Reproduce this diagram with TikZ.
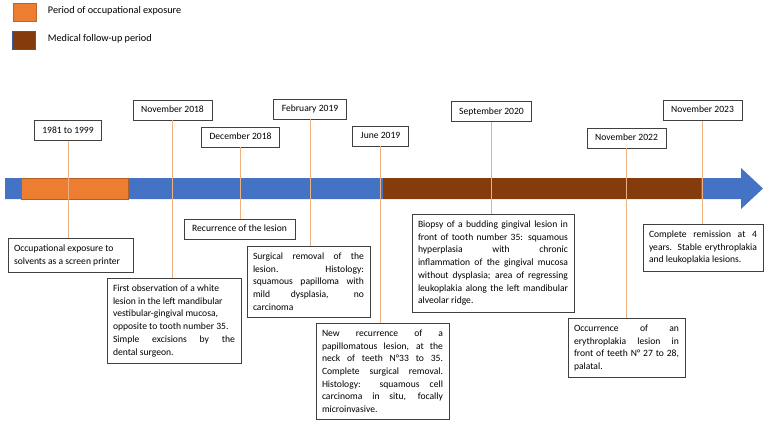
\documentclass[tikz,border=0pt]{standalone}
\usepackage{fontspec}
\setmainfont{Carlito}
\usetikzlibrary{positioning}
\definecolor{barblue}{RGB}{68,114,196}
\definecolor{exporange}{RGB}{237,125,49}
\definecolor{followbrown}{RGB}{132,60,12}
\definecolor{stem}{RGB}{238,176,126}
\definecolor{boxgray}{RGB}{64,64,64}

\begin{document}
\begin{tikzpicture}[x=1pt,y=-1pt,
  every node/.style={font=\fontsize{9.6}{12.7}\selectfont},
  datebox/.style={draw=boxgray,line width=0.7pt,inner xsep=8pt,inner ysep=5.5pt,text height=7pt,text depth=2pt},
  eventbox/.style={draw=boxgray,line width=0.7pt,inner xsep=6pt,inner ysep=6.5pt,align=justify,anchor=north},
  keybox/.style={minimum width=23pt,minimum height=18pt,inner sep=0pt,line width=0.8pt},
  keytext/.style={font=\fontsize{10.2}{12.7}\selectfont,yshift=1.5pt},
  link/.style={stem,line width=0.8pt}]
  \useasboundingbox (0,0) rectangle (767,425);
  % legend
  \node[keybox,fill=exporange,draw=exporange!80!black] (keyexp) at (24.5,12) {};
  \node[keytext,right=8pt of keyexp] (keyexptext) {Period of occupational exposure};
  \node[keybox,fill=followbrown,draw=barblue!80!black] (keyfollow) at (24,40) {};
  \node[keytext,right=8.5pt of keyfollow] (keyfollowtext) {Medical follow-up period};
  % time bar
  \fill[barblue] (5,178) -- (741,178) -- (741,168) -- (763,188.5) -- (741,209) -- (741,199) -- (5,199) -- cycle;
  \filldraw[fill=exporange,draw=exporange!75!black,line width=0.6pt] (21,178) rectangle (128,199);
  \fill[followbrown] (383,178) rectangle (701,199);
  % dates
  \node[datebox] (d1) at (68,130.5) {1981 to 1999};
  \node[datebox] (d2) at (172.5,110) {November 2018};
  \node[datebox] (d3) at (240.5,137) {December 2018};
  \node[datebox] (d4) at (310,109) {February 2019};
  \node[datebox] (d5) at (380.5,136) {June 2019};
  \node[datebox] (d6) at (491.5,111.5) {September 2020};
  \node[datebox] (d7) at (626.5,138) {November 2022};
  \node[datebox] (d8) at (702.5,110.5) {November 2023};
  % events
  \node[eventbox,text width=113pt] (e1) at (70.5,238) {Occupational exposure to\\ solvents as a screen printer};
  \node[eventbox,text width=122pt] (e2) at (174,278) {First observation of a white\\ lesion in the left mandibular\\ vestibular-gingival mucosa,\\ opposite to tooth number 35.\\ Simple excisions by the\linebreak dental surgeon.};
  \node[datebox] (e3) at (239.5,229) {Recurrence of the lesion};
  \node[eventbox,text width=111pt] (e4) at (308.5,246) {Surgical removal of the\linebreak lesion. Histology:\linebreak squamous papilloma with\linebreak mild dysplasia, no\linebreak carcinoma};
  \node[eventbox,text width=121pt] (e5) at (382.5,323) {New recurrence of a\linebreak papillomatous lesion, at the\linebreak neck of teeth N°33 to 35.\linebreak Complete surgical removal.\linebreak Histology: squamous cell\linebreak carcinoma in situ, focally\linebreak microinvasive.};
  \node[eventbox,text width=150pt] (e6) at (493,214) {Biopsy of a budding gingival lesion in\linebreak front of tooth number 35: squamous\linebreak hyperplasia with chronic\linebreak inflammation of the gingival mucosa\linebreak without dysplasia; area of regressing\linebreak leukoplakia along the left mandibular\linebreak alveolar ridge.};
  \node[eventbox,text width=105pt] (e7) at (626.5,318) {Occurrence of an\linebreak erythroplakia lesion in\linebreak front of teeth N° 27 to 28,\linebreak palatal.};
  \node[eventbox,text width=108pt] (e8) at (703,224) {Complete remission at 4\linebreak years. Stable erythroplakia\linebreak and leukoplakia lesions.};
  % stems
  \foreach \i in {1,...,8}
    \draw[link] (d\i.south) -- (d\i.south |- e\i.north);
\end{tikzpicture}
\end{document}
